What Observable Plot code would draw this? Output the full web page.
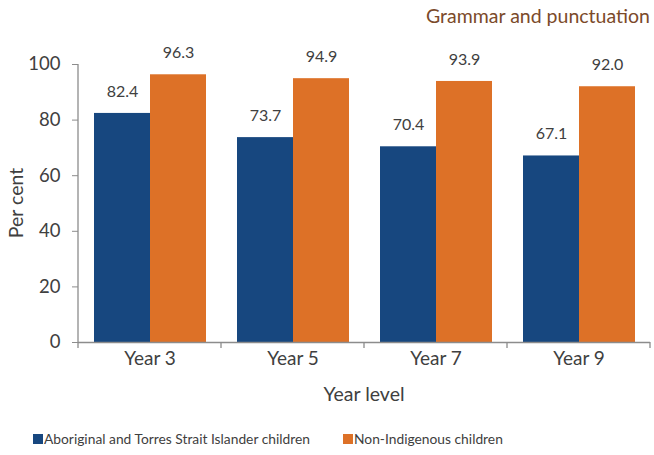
<!DOCTYPE html>
<html><head><meta charset="utf-8">
<script src="https://cdn.jsdelivr.net/npm/d3@7"></script>
<script src="https://cdn.jsdelivr.net/npm/@observablehq/plot@0.6"></script>
<style>
body{margin:0;background:#fff;font-family:Lato,sans-serif;}
#wrap{position:relative;width:654px;height:455px;overflow:hidden;}
#title{position:absolute;right:4px;top:4px;font-size:19.5px;line-height:24px;color:#7B4A2A;white-space:nowrap;}
#ylabel{position:absolute;left:16px;top:203px;transform:translate(-50%,-50%) rotate(-90deg);font-size:19.5px;line-height:24px;color:#404040;white-space:nowrap;}
#xlabel{position:absolute;left:364px;top:382px;transform:translateX(-50%);font-size:19.5px;line-height:24px;color:#404040;white-space:nowrap;}
#legend{position:absolute;top:431px;left:33px;font-size:13.8px;line-height:16px;color:#404040;white-space:nowrap;}
.item{position:absolute;top:0;display:flex;align-items:center;}
.sw{width:10px;height:10px;margin-right:1px;}
#chart{position:absolute;left:0;top:0;}
</style></head>
<body>
<div id="wrap">
<div id="chart"></div>
<div id="title"></div>
<div id="ylabel"></div>
<div id="xlabel"></div>
<div id="legend"></div>
</div>
<script>
const titleText = "Grammar and punctuation";
const yLabel = "Per cent";
const xLabel = "Year level";
const years = ["Year 3", "Year 5", "Year 7", "Year 9"];
const series = ["Aboriginal and Torres Strait Islander children", "Non-Indigenous children"];
const indigenous = [82.4, 73.7, 70.4, 67.1];
const nonIndigenous = [96.3, 94.9, 93.9, 92.0];
const colors = ["#17477F", "#DD7127"];
const yTicks = [0, 20, 40, 60, 80, 100];

const data = years.flatMap((y, i) => [
  {year: y, series: series[0], value: indigenous[i]},
  {year: y, series: series[1], value: nonIndigenous[i]}
]);

const axisColor = "#8C8C8C";
const textColor = "#404040";

const plot = Plot.plot({
  width: 654,
  height: 420,
  marginTop: 64,
  marginBottom: 78,
  marginLeft: 77,
  marginRight: 3,
  style: {fontFamily: "Lato, sans-serif", fontSize: "18.5px", color: textColor, background: "transparent"},
  fx: {domain: years, padding: 0, label: null},
  x: {domain: series, paddingInner: 0, paddingOuter: 0.26, axis: null},
  y: {domain: [0, 100], label: null},
  color: {domain: series, range: colors},
  marks: [
    Plot.barY(data, {fx: "year", x: "series", y: "value", fill: "series", inset: 0}),
    Plot.text(data, {fx: "year", x: "series", y: "value", text: d => d.value.toFixed(1), dy: -22, fontSize: 16, fill: textColor}),
    Plot.ruleY([0], {stroke: axisColor, strokeWidth: 1.3}),
    Plot.axisY({ticks: yTicks, tickSize: 6, tickPadding: 12, stroke: axisColor, fill: textColor, label: null, fontSize: 18.5}),
    Plot.axisFx({anchor: "bottom", tickSize: 0, tickPadding: 9, label: null, fontSize: 19, fill: textColor})
  ]
});
document.getElementById("chart").appendChild(plot);

// axis lines and boundary ticks from the library's scales
const svg = d3.select(plot);
const fx = plot.scale("fx");
const y = plot.scale("y");
const x0 = fx.apply(years[0]);
const step = fx.step;
const y0 = y.apply(0), yTop = y.apply(100);
const g = svg.append("g").attr("stroke", axisColor).attr("stroke-width", 1.3);
g.append("line").attr("x1", x0).attr("x2", x0).attr("y1", yTop).attr("y2", y0 + 6);
years.forEach((yr, i) => {
  const xb = fx.apply(yr) + step;
  g.append("line").attr("x1", xb).attr("x2", xb).attr("y1", y0).attr("y2", y0 + 6);
});

document.getElementById("title").textContent = titleText;
document.getElementById("ylabel").textContent = yLabel;
document.getElementById("xlabel").textContent = xLabel;
const lg = document.getElementById("legend");
const lefts = [0, 310];
series.forEach((s, i) => {
  const it = document.createElement("div");
  it.className = "item";
  it.style.left = lefts[i] + "px";
  it.innerHTML = `<span class="sw" style="background:${colors[i]}"></span><span></span>`;
  it.lastChild.textContent = s;
  lg.appendChild(it);
});
</script>
</body></html>
